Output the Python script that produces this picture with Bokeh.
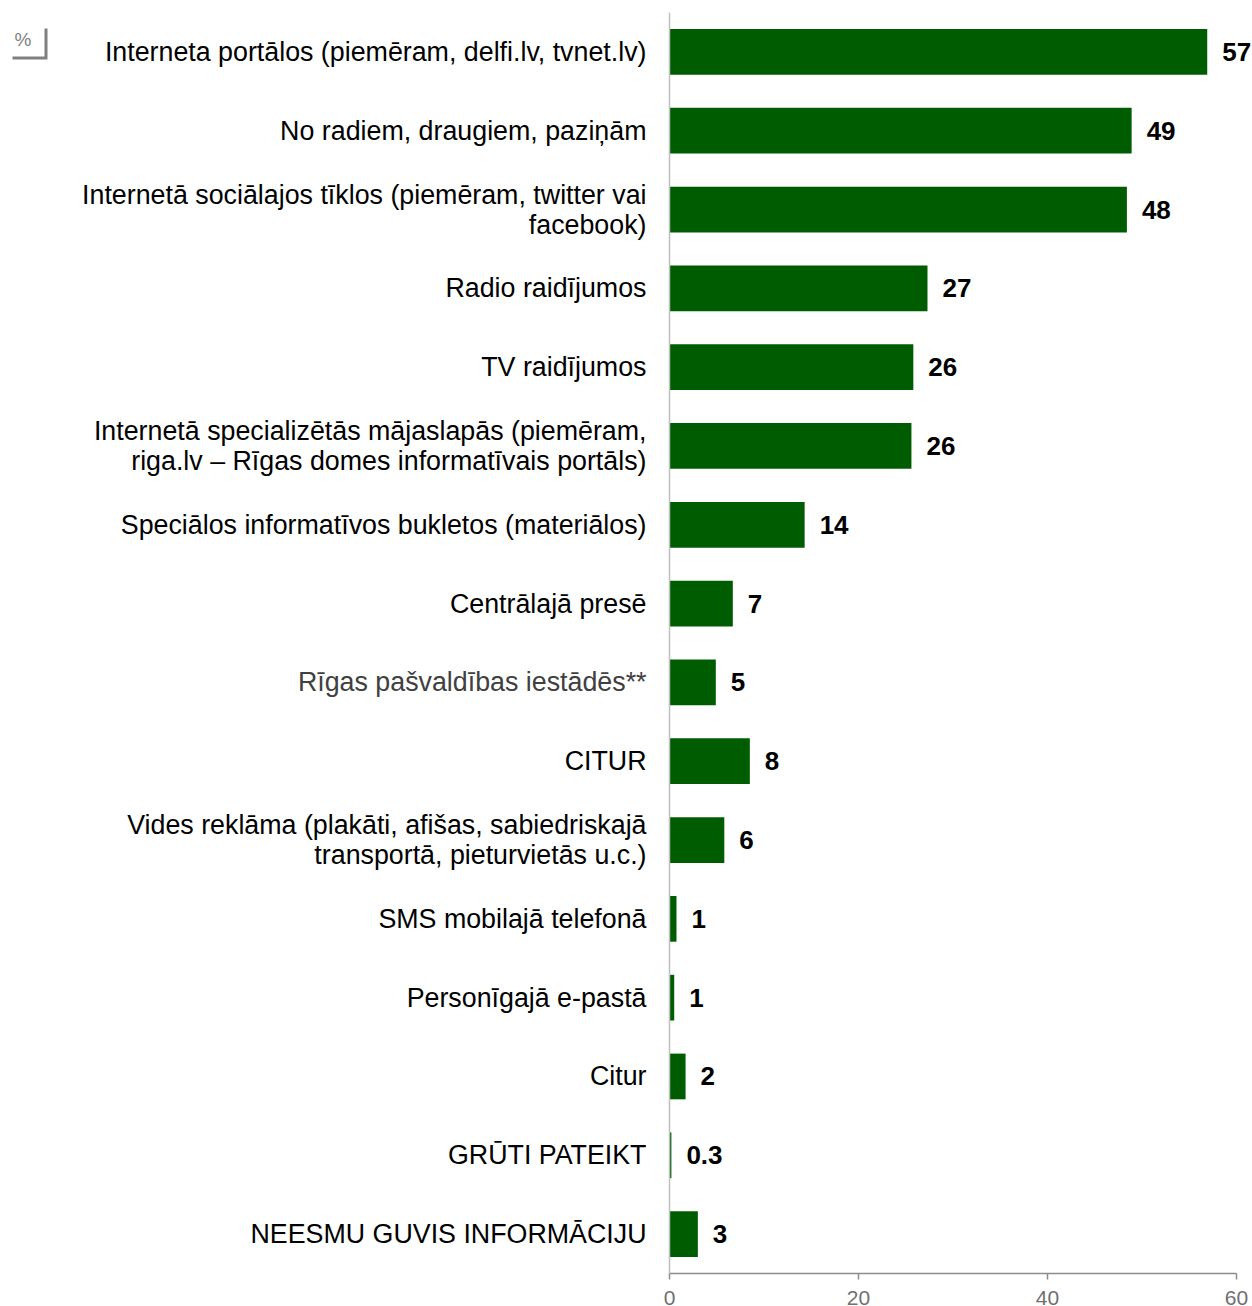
from bokeh.plotting import figure
from bokeh.models import ColumnDataSource, LabelSet, Label, FactorRange, Range1d, FixedTicker, PolyAnnotation, Span
from bokeh.core.properties import value
from bokeh.embed import file_html
from bokeh.resources import INLINE

categories = [
    "Interneta portālos (piemēram, delfi.lv, tvnet.lv)",
    "No radiem, draugiem, paziņām",
    "Internetā sociālajos tīklos (piemēram, twitter vai\nfacebook)",
    "Radio raidījumos",
    "TV raidījumos",
    "Internetā specializētās mājaslapās (piemēram,\nriga.lv – Rīgas domes informatīvais portāls)",
    "Speciālos informatīvos bukletos (materiālos)",
    "Centrālajā presē",
    "Rīgas pašvaldības iestādēs**",
    "CITUR",
    "Vides reklāma (plakāti, afišas, sabiedriskajā\ntransportā, pieturvietās u.c.)",
    "SMS mobilajā telefonā",
    "Personīgajā e-pastā",
    "Citur",
    "GRŪTI PATEIKT",
    "NEESMU GUVIS INFORMĀCIJU",
]
values = [56.9, 48.9, 48.4, 27.3, 25.8, 25.6, 14.3, 6.7, 4.9, 8.5, 5.8, 0.74, 0.5, 1.7, 0.2, 3.0]
value_labels = ["57", "49", "48", "27", "26", "26", "14", "7", "5", "8", "6", "1", "1", "2", "0.3", "3"]
label_colors = ["#000000"] * 8 + ["#404040"] + ["#000000"] * 7
x_ticks = [0, 20, 40, 60]

FONT_NAME = "Liberation Sans"
FONT = value(FONT_NAME)
LINE_H = 30  # px between wrapped label lines

src = ColumnDataSource(dict(cat=categories, val=values, vlab=value_labels))

# one row per text line of each category label, so every line is right-aligned
line_cat, line_txt, line_off, line_col = [], [], [], []
for c, col in zip(categories, label_colors):
    parts = c.split("\n")
    n = len(parts)
    for i, t in enumerate(parts):
        line_cat.append(c)
        line_txt.append(t)
        line_off.append((n - 1) / 2 * LINE_H - i * LINE_H)
        line_col.append(col)
lsrc = ColumnDataSource(dict(cat=line_cat, txt=line_txt, yoff=line_off, col=line_col,
                             zero=[0] * len(line_cat)))

p = figure(
    y_range=FactorRange(factors=list(reversed(categories)), range_padding=0),
    x_range=Range1d(-70.79, 61.69),
    frame_width=1252, frame_height=1261,
    min_border_left=0, min_border_right=0, min_border_top=12, min_border_bottom=33,
    output_backend="svg", toolbar_location=None,
)
p.outline_line_color = None
p.background_fill_color = "white"
p.border_fill_color = "white"
p.xgrid.grid_line_color = None
p.ygrid.grid_line_color = None
p.yaxis.visible = False

p.hbar(y="cat", right="val", left=0, height=0.58, source=src, fill_color="#005C00", line_color=None)

# vertical zero line (value axis origin)
p.add_layout(Span(location=0, dimension="height", line_color="#BFBFBF", line_width=1.5))

# category labels
cat_labels = LabelSet(x="zero", y="cat", text="txt", source=lsrc, x_offset=-23, y_offset="yoff",
                      text_align="right", text_baseline="middle", text_font_size="26.8px",
                      text_font=FONT, text_color="col")
p.add_layout(cat_labels)

# value labels
val_labels = LabelSet(x="val", y="cat", text="vlab", source=src, x_offset=15,
                      text_align="left", text_baseline="middle", text_font_size="26px",
                      text_font=FONT, text_font_style="bold", text_color="#000000")
p.add_layout(val_labels)

# x axis
p.xaxis.bounds = (0, 60)
p.xaxis.ticker = FixedTicker(ticks=x_ticks)
p.xaxis.axis_line_color = "#8C8C8C"
p.xaxis.axis_line_width = 1.5
p.xaxis.major_tick_line_color = "#8C8C8C"
p.xaxis.major_tick_line_width = 1.5
p.xaxis.major_tick_out = 6
p.xaxis.major_tick_in = 0
p.xaxis.minor_tick_line_color = None
p.xaxis.major_label_text_font = FONT_NAME
p.xaxis.major_label_text_font_size = "21px"
p.xaxis.major_label_text_color = "#707070"
p.xaxis.major_label_standoff = 11

# "%" marker
p.add_layout(Label(x=14, y=28, x_units="canvas", y_units="canvas", text="%",
                   text_font=FONT_NAME, text_font_size="19px", text_color="#808080",
                   text_baseline="top", text_align="left"))
p.add_layout(PolyAnnotation(xs=[12, 47, 47, 44, 44, 12], ys=[59, 59, 28, 28, 56, 56],
                            xs_units="canvas", ys_units="canvas",
                            fill_color="#808080", fill_alpha=1, line_color=None))

open("out.html", "w").write(file_html(p, INLINE))
